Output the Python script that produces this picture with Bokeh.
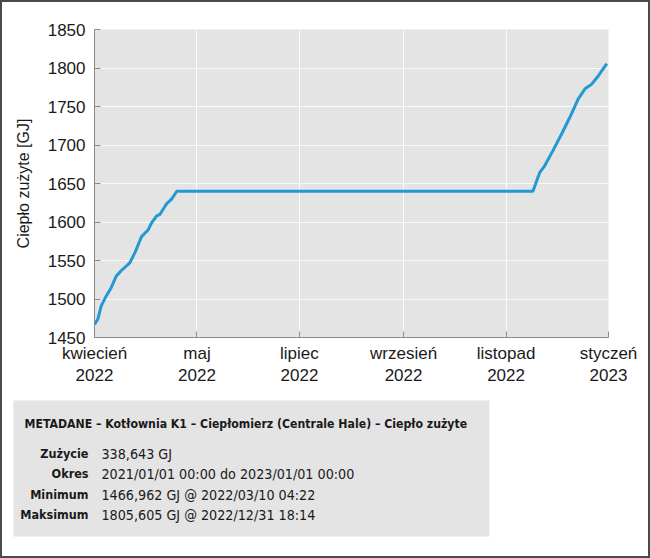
from datetime import datetime
from bokeh.plotting import figure
from bokeh.layouts import column
from bokeh.models import Range1d, FixedTicker, ColumnDataSource
from bokeh.core.properties import value
from bokeh.embed import file_html
from bokeh.resources import INLINE

# ---- data ----
dates = ["2022-03-01", "2022-03-03", "2022-03-05", "2022-03-08", "2022-03-11", "2022-03-14",
         "2022-03-17", "2022-03-22", "2022-03-25", "2022-03-29", "2022-04-02", "2022-04-04",
         "2022-04-07", "2022-04-09", "2022-04-13", "2022-04-16", "2022-04-19", "2022-11-17",
         "2022-11-21", "2022-11-24", "2022-11-29", "2022-12-04", "2022-12-09", "2022-12-14",
         "2022-12-18", "2022-12-22", "2022-12-26", "2022-12-31"]
values = [1467, 1474, 1491, 1504, 1515, 1530, 1537, 1547, 1560, 1581, 1590, 1599, 1608, 1610,
          1624, 1630, 1640, 1640, 1664, 1673, 1693, 1714, 1736, 1760, 1773, 1779, 1790, 1805.6]

x_tick_dates = ["2022-03-01", "2022-05-01", "2022-07-01", "2022-09-01", "2022-11-01", "2023-01-01"]
x_tick_labels = ["kwiecień\n2022", "maj\n2022", "lipiec\n2022", "wrzesień\n2022",
                 "listopad\n2022", "styczeń\n2023"]
y_ticks = [1450, 1500, 1550, 1600, 1650, 1700, 1750, 1800, 1850]
y_label = "Ciepło zużyte [GJ]"

meta_title = "METADANE – Kotłownia K1 – Ciepłomierz (Centrale Hale) – Ciepło zużyte"
meta_keys = ["Zużycie", "Okres", "Minimum", "Maksimum"]
meta_values = ["338,643 GJ", "2021/01/01 00:00 do 2023/01/01 00:00",
               "1466,962 GJ @ 2022/03/10 04:22", "1805,605 GJ @ 2022/12/31 18:14"]

# ---- layout constants (canvas pixels) ----
B = 2                      # outer border width
W, H = 650, 558
TOP_H = 390 - B            # chart figure height
BOT_H = H - 2 * B - TOP_H  # metadata figure height
to_dt = lambda s: datetime.strptime(s, "%Y-%m-%d")
to_ms = lambda s: (to_dt(s) - datetime(1970, 1, 1)).total_seconds() * 1000.0

FONT = "Liberation Sans"
MFONT = "DejaVu Sans Condensed"
INK = "#1a1a1a"

src = ColumnDataSource(dict(x=[to_dt(d) for d in dates], y=values))

p = figure(width=W - 2 * B, height=TOP_H, x_axis_type="datetime", output_backend="svg",
           toolbar_location=None,
           x_range=Range1d(to_dt("2022-03-01"), to_dt("2023-01-01")),
           y_range=Range1d(1450, 1850),
           min_border_left=94 - B, min_border_right=42 - B,
           min_border_top=29 - B, min_border_bottom=TOP_H - (337 - B))
p.background_fill_color = "#e4e4e4"
p.border_fill_color = "white"
p.outline_line_color = None

p.line("x", "y", source=src, line_color="#2399d3", line_width=3)

ax = p.xaxis[0]
ax.ticker = FixedTicker(ticks=[to_ms(d) for d in x_tick_dates])
ax.major_label_overrides = {to_ms(d): l for d, l in zip(x_tick_dates, x_tick_labels)}
ax.major_label_text_font = FONT
ax.major_label_text_font_size = "17px"
ax.major_label_text_color = INK
ax.major_label_standoff = 6

ay = p.yaxis[0]
ay.ticker = FixedTicker(ticks=y_ticks)
ay.major_label_text_font = FONT
ay.major_label_text_font_size = "17px"
ay.major_label_text_color = INK
ay.major_label_standoff = 9
ay.axis_label = y_label
ay.axis_label_text_font = FONT
ay.axis_label_text_font_size = "16px"
ay.axis_label_text_font_style = "normal"
ay.axis_label_text_color = INK
ay.axis_label_standoff = 13

for a in (ax, ay):
    a.axis_line_color = "#8a8a8a"
    a.major_tick_line_color = "#8a8a8a"
    a.major_tick_in = 6
    a.major_tick_out = 0
    a.minor_tick_line_color = None

p.grid.grid_line_color = "white"
p.grid.grid_line_alpha = 0.8
p.grid.grid_line_width = 1

# ---- metadata panel: a bare figure whose data space equals canvas pixels ----
m = figure(width=W - 2 * B, height=BOT_H, output_backend="svg", toolbar_location=None,
           x_range=Range1d(B, W - B), y_range=Range1d(H - B, 390),
           min_border=0, x_axis_location=None, y_axis_location=None)
m.min_border_left = m.min_border_right = m.min_border_top = m.min_border_bottom = 0
for fig in (p, m):
    if "frame_align" in fig.properties():
        fig.frame_align = False
m.grid.visible = False
m.outline_line_color = None
m.background_fill_color = "white"
m.border_fill_color = "white"

m.quad(left=[13], right=[489], top=[400], bottom=[536], fill_color="#e4e4e4", line_color=None)

m.text(x=[24], y=[423], text=[meta_title], text_font=value(MFONT),
       text_font_size="12.2px", text_font_style="bold", text_color=INK,
       text_baseline="middle", text_align="left")

row_y = [453, 473, 494, 514]
ksrc = ColumnDataSource(dict(x=[88] * len(meta_keys), y=row_y, t=meta_keys))
vsrc = ColumnDataSource(dict(x=[101] * len(meta_values), y=row_y, t=meta_values))
m.text("x", "y", text="t", source=ksrc, text_font=value(MFONT),
       text_font_size="12.5px", text_font_style="bold", text_color=INK,
       text_baseline="middle", text_align="right")
m.text("x", "y", text="t", source=vsrc, text_font=value(MFONT),
       text_font_size="14.2px", text_font_style="normal", text_color=INK,
       text_baseline="middle", text_align="left")

page = column(p, m, spacing=0, styles={"border": "2px solid #4a4a4a"})
open("out.html", "w").write(file_html(page, INLINE))
